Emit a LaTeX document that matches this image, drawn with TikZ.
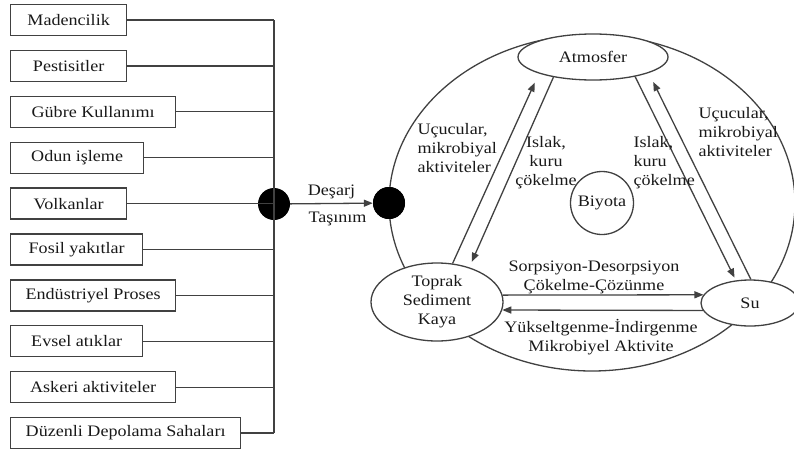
\documentclass[tikz,border=0pt]{standalone}
\usepackage{fontspec}
\setmainfont{Liberation Serif}[FakeStretch=1.13]
\usetikzlibrary{arrows.meta,positioning,shapes.geometric}
\definecolor{cizgi}{RGB}{65,65,65}
\definecolor{yazi}{RGB}{25,25,25}

\begin{document}
\begin{tikzpicture}[x=1pt,y=-1pt,text=yazi,
    font=\fontsize{16}{19}\selectfont,
    hat/.style={draw=cizgi,line width=1.3pt},
    ok/.style={hat,-{Triangle[length=9pt,width=7pt]}},
    kutu/.style={hat,anchor=west,minimum height=31pt,inner sep=0pt},
    nokta/.style={circle,fill=black,minimum size=32pt,inner sep=0pt},
    ortam/.style={ellipse,hat,fill=white,inner sep=0pt,align=center}]
  \useasboundingbox (0,0) rectangle (794,450);
  % kaynaklar
  \foreach \i/\w/\ad in {1/116/Madencilik,2/116/Pestisitler,
      3/165/Gübre Kullanımı,4/133/Odun işleme,5/116/Volkanlar,
      6/132/Fosil yakıtlar,7/165/Endüstriyel Proses,8/132/Evsel atıklar,
      9/165/Askeri aktiviteler,10/230/Düzenli Depolama Sahaları}
    \node[kutu,minimum width=\w pt] (k\i) at (10,{20+45.9*(\i-1)}) {\ad};
  \node[nokta] (hub) at (274,204) {};
  \draw[hat] (k1.east -| hub) -- (k10.east -| hub);
  \foreach \i in {1,...,10}
    \draw[hat] (k\i.east) -- (k\i.east -| hub);
  \node[nokta] (d2) at (389,203) {};
  % dongu
  \draw[hat] (592,203) ellipse [x radius=203pt,y radius=168pt];
  \node[nokta] at (d2) {};
  \draw[ok] (hub) -- node[above=1pt] {Deşarj} node[below=5pt,xshift=6pt] {Taşınım} (d2);
  \node[ortam,minimum width=150pt,minimum height=46pt] (atmos) at (593,57) {Atmosfer};
  \node[ortam,minimum width=132pt,minimum height=78pt] (toprak) at (437,302) {Toprak\\Sediment\\Kaya};
  \node[ortam,minimum width=98pt,minimum height=46pt] (su) at (750,303) {Su};
  \node[circle,hat,minimum size=63pt,inner sep=0pt] (biyota) at (602,203) {Biyota};
  \draw[ok,shorten >=10pt] (toprak.68) -- (atmos.197);
  \draw[ok,shorten >=6pt] (atmos.207) -- (toprak.47);
  \draw[ok,shorten >=3pt] (atmos.335) -- (su.122);
  \draw[ok,shorten >=10pt] (su.88) -- (atmos.344);
  \draw[ok] (toprak.6) -- (su.170);
  \draw[ok] (su.189) -- (toprak.353);
  % etiketler
  \node[align=left,anchor=west] (ucucu1) at (414,148) {Uçucular,\\mikrobiyal\\aktiviteler};
  \node[align=center] (islak1) at (546,163) {Islak,\\kuru\\çökelme};
  \node[align=left,anchor=west] (islak2) at (630,163) {Islak,\\kuru\\çökelme};
  \node[align=left,anchor=west] (ucucu2) at (695,132) {Uçucular,\\mikrobiyal\\aktiviteler};
  \node[align=center] (sorp) at (594,277) {Sorpsiyon-Desorpsiyon\\Çökelme-Çözünme};
  \node[align=center] (yuks) at (601,337) {Yükseltgenme-İndirgenme\\Mikrobiyel Aktivite};
\end{tikzpicture}
\end{document}
